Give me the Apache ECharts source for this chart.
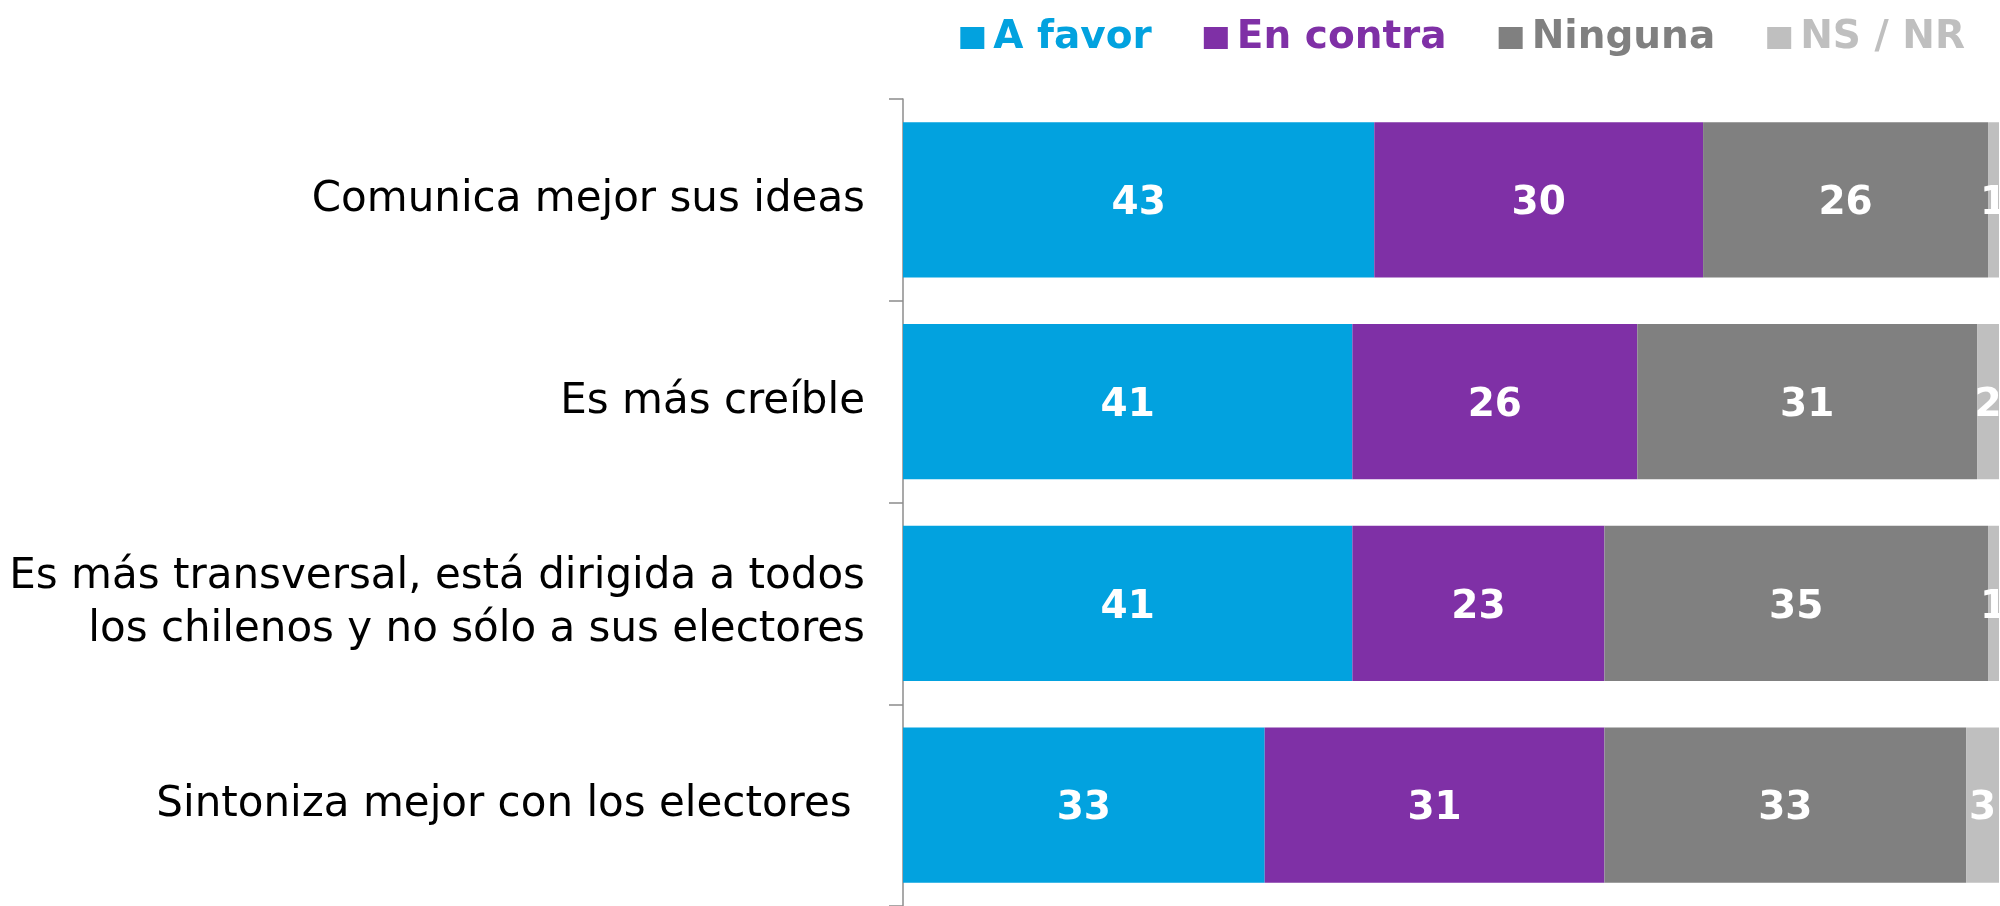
<!DOCTYPE html>
<html>
<head>
<meta charset="utf-8">
<script src="https://cdn.jsdelivr.net/npm/echarts@6/dist/echarts.min.js"></script>
<style>
  html, body { margin: 0; padding: 0; background: #fff; }
  #main { width: 2000px; height: 906px; }
</style>
</head>
<body>
<div id="main"></div>
<script>
// categories, top to bottom
const categories = [
    'Comunica mejor sus ideas',
    'Es más creíble',
    'Es más transversal, está dirigida a todos\nlos chilenos y no sólo a sus electores',
    'Sintoniza mejor con los electores '
];

const aFavor = [43, 41, 41, 33];
const enContra = [30, 26, 23, 31];
const ninguna = [26, 31, 35, 33];
const nsnr = [1, 2, 1, 3];

const seriesNames = ['A favor', 'En contra', 'Ninguna', 'NS / NR'];
const colors = ['#02A2DF', '#7F30A6', '#808080', '#BFBFBF'];
const values = [aFavor, enContra, ninguna, nsnr];

const FONT = '"DejaVu Sans", "Noto Sans", sans-serif';

var chart = echarts.init(document.getElementById('main'));

const options = {
    animation: false,
    legend: {
        top: 13,
        right: 30,
        icon: 'rect',
        itemWidth: 24,
        itemHeight: 22,
        itemGap: 52,
        data: seriesNames.map((n, i) => ({
            name: n,
            textStyle: { color: colors[i] }
        })),
        textStyle: {
            fontFamily: FONT,
            fontWeight: 'bold',
            fontSize: 39,
            lineHeight: 40,
            padding: [0, 0, 0, 4]
        }
    },
    grid: {
        left: 903,
        right: 1,
        top: 99,
        height: 812
    },
    xAxis: {
        type: 'value',
        min: 0,
        max: 100,
        show: false
    },
    yAxis: {
        type: 'category',
        inverse: true,
        data: categories,
        axisLine: { show: true, lineStyle: { color: '#8c8c8c', width: 1.5 } },
        axisTick: { show: true, length: 14, lineStyle: { color: '#8c8c8c', width: 1.5 } },
        axisLabel: {
            margin: 38,
            color: '#000',
            fontFamily: FONT,
            fontSize: 42,
            lineHeight: 53
        },
        splitLine: { show: false }
    },
    series: values.map((v, i) => ({
        name: seriesNames[i],
        type: 'bar',
        stack: 'total',
        barCategoryGap: '23%',
        data: v,
        itemStyle: { color: colors[i] },
        label: {
            show: true,
            position: 'inside',
            offset: [0, 4],
            color: '#fff',
            fontFamily: FONT,
            fontWeight: 'bold',
            fontSize: 39
        }
    }))
};

chart.setOption(options);
</script>
</body>
</html>
